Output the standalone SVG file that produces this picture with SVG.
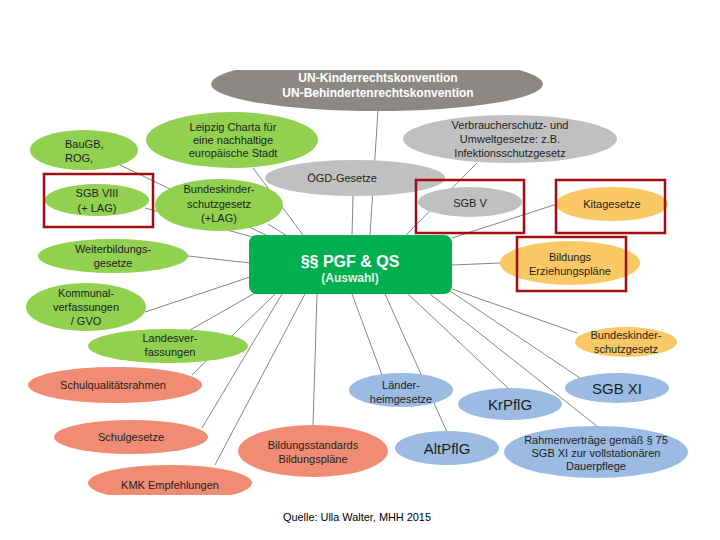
<svg xmlns="http://www.w3.org/2000/svg" width="720" height="540" viewBox="0 0 720 540">
<defs>
<style>
.t{font-family:"Liberation Sans",Arial,sans-serif;font-size:11px;fill:#1e1e1e;text-anchor:middle}
.b{font-size:15px}
.w{fill:#ffffff;font-weight:bold}
.g{fill:#92d050}
.gr{fill:#c0c0c0}
.o{fill:#fac864}
.s{fill:#f08c74}
.bl{fill:#9bbbe3}
.rb{fill:none;stroke:#a00f0f;stroke-width:2.5}
.c line{stroke:#505050;stroke-width:0.7}
</style>
<clipPath id="top"><rect x="0" y="70" width="720" height="425"/></clipPath>
</defs>
<rect width="720" height="540" fill="#ffffff"/>
<g class="c">
<line x1="378" y1="110" x2="370" y2="235"/>
<line x1="353" y1="196" x2="352" y2="235"/>
<line x1="253" y1="168" x2="303" y2="235"/>
<line x1="120" y1="165" x2="268" y2="236"/>
<line x1="145" y1="208" x2="253" y2="237"/>
<line x1="268" y1="224" x2="287" y2="236"/>
<line x1="477" y1="163" x2="405" y2="236"/>
<line x1="557" y1="204" x2="452" y2="238"/>
<line x1="452" y1="265" x2="500" y2="263"/>
<line x1="188" y1="256" x2="250" y2="263"/>
<line x1="145" y1="312" x2="250" y2="277"/>
<line x1="190" y1="330" x2="255" y2="293"/>
<line x1="192" y1="375" x2="275" y2="294"/>
<line x1="202" y1="428" x2="282" y2="294"/>
<line x1="215" y1="465" x2="305" y2="294"/>
<line x1="313" y1="425" x2="317" y2="294"/>
<line x1="352" y1="294" x2="382" y2="375"/>
<line x1="385" y1="294" x2="447" y2="432"/>
<line x1="408" y1="294" x2="508" y2="388"/>
<line x1="430" y1="294" x2="598" y2="427"/>
<line x1="450" y1="291" x2="580" y2="378"/>
<line x1="452" y1="289" x2="577" y2="333"/>
</g>
<g id="un" clip-path="url(#top)">
<ellipse cx="377" cy="84" rx="166" ry="27" fill="#8c8985"/>
<text class="t w" x="378" y="82" style="font-size:12px">UN-Kinderrechtskonvention</text>
<text class="t w" x="378" y="97" style="font-size:12px">UN-Behindertenrechtskonvention</text>
</g>
<g id="leipzig">
<ellipse class="g" cx="232" cy="140" rx="86" ry="28"/>
<text class="t" x="233" y="131">Leipzig Charta für</text>
<text class="t" x="233" y="144">eine nachhaltige</text>
<text class="t" x="233" y="157">europäische Stadt</text>
</g>
<g id="baugb">
<ellipse class="g" cx="84" cy="150" rx="54" ry="20"/>
<text class="t" x="65" y="148" style="text-anchor:start">BauGB,</text>
<text class="t" x="65" y="162" style="text-anchor:start">ROG,</text>
</g>
<g id="verbraucher">
<ellipse class="gr" cx="510" cy="139" rx="107" ry="24"/>
<text class="t" x="510" y="129">Verbraucherschutz- und</text>
<text class="t" x="510" y="143">Umweltgesetze: z.B.</text>
<text class="t" x="510" y="157">Infektionsschutzgesetz</text>
</g>
<g id="oegd">
<ellipse class="gr" cx="355" cy="178" rx="90" ry="18"/>
<text class="t" x="342" y="182">ÖGD-Gesetze</text>
</g>
<g id="sgb8">
<ellipse class="g" cx="97" cy="200" rx="52" ry="16"/>
<text class="t" x="97" y="197">SGB VIII</text>
<text class="t" x="97" y="212">(+ LAG)</text>
</g>
<g id="bkisg">
<ellipse class="g" cx="219" cy="205" rx="64" ry="26"/>
<text class="t" x="219" y="193">Bundeskinder-</text>
<text class="t" x="219" y="208">schutzgesetz</text>
<text class="t" x="219" y="222">(+LAG)</text>
</g>
<g id="sgb5">
<ellipse class="gr" cx="470" cy="202" rx="52" ry="15"/>
<text class="t" x="470" y="207">SGB V</text>
</g>
<g id="kita">
<ellipse class="o" cx="612" cy="204" rx="56" ry="17"/>
<text class="t" x="612" y="208">Kitagesetze</text>
</g>
<g id="center">
<rect x="249" y="235" width="203" height="59" rx="8" fill="#00b050"/>
<text class="t w" x="350" y="267" style="font-size:16px">§§ PGF &amp; QS</text>
<text class="t w" x="350" y="282" style="font-size:12px;fill:#e4f4e4">(Auswahl)</text>
</g>
<g id="bildungs">
<ellipse class="o" cx="570" cy="263" rx="70" ry="22"/>
<text class="t" x="570" y="261">Bildungs</text>
<text class="t" x="570" y="275">Erziehungspläne</text>
</g>
<g id="weiter">
<ellipse class="g" cx="113" cy="256" rx="75" ry="17"/>
<text class="t" x="113" y="253">Weiterbildungs-</text>
<text class="t" x="113" y="267">gesetze</text>
</g>
<g id="kommunal">
<ellipse class="g" cx="86" cy="307" rx="60" ry="24"/>
<text class="t" x="86" y="297">Kommunal-</text>
<text class="t" x="86" y="311">verfassungen</text>
<text class="t" x="86" y="325">/ GVO</text>
</g>
<g id="landes">
<ellipse class="g" cx="168" cy="346" rx="80" ry="17"/>
<text class="t" x="170" y="342">Landesver-</text>
<text class="t" x="170" y="356">fassungen</text>
</g>
<g id="bkisg2">
<ellipse class="o" cx="626" cy="342" rx="51" ry="15"/>
<text class="t" x="626" y="339">Bundeskinder-</text>
<text class="t" x="626" y="353">schutzgesetz</text>
</g>
<g id="schulq">
<ellipse class="s" cx="115" cy="385" rx="87" ry="18"/>
<text class="t" x="113" y="389">Schulqualitätsrahmen</text>
</g>
<g id="laender">
<ellipse class="bl" cx="401" cy="390" rx="52" ry="17"/>
<text class="t" x="401" y="389">Länder-</text>
<text class="t" x="401" y="403">heimgesetze</text>
</g>
<g id="sgb11">
<ellipse class="bl" cx="617" cy="388" rx="52" ry="15"/>
<text class="t b" x="617" y="394">SGB XI</text>
</g>
<g id="krpflg">
<ellipse class="bl" cx="510" cy="404" rx="52" ry="16"/>
<text class="t b" x="510" y="410">KrPflG</text>
</g>
<g id="schulg">
<ellipse class="s" cx="131" cy="437" rx="77" ry="17"/>
<text class="t" x="131" y="441">Schulgesetze</text>
</g>
<g id="standards">
<ellipse class="s" cx="313" cy="451" rx="75" ry="26"/>
<text class="t" x="313" y="449">Bildungsstandards</text>
<text class="t" x="313" y="463">Bildungspläne</text>
</g>
<g id="altpflg">
<ellipse class="bl" cx="447" cy="448" rx="52" ry="17"/>
<text class="t b" x="447" y="454">AltPflG</text>
</g>
<g id="rahmen">
<ellipse class="bl" cx="596" cy="452" rx="92" ry="26"/>
<text class="t" x="596" y="444">Rahmenverträge gemäß § 75</text>
<text class="t" x="596" y="457">SGB XI zur vollstationären</text>
<text class="t" x="596" y="470">Dauerpflege</text>
</g>
<g id="kmk" clip-path="url(#top)">
<ellipse class="s" cx="170" cy="483" rx="82" ry="18"/>
<text class="t" x="170" y="489">KMK Empfehlungen</text>
</g>
<g id="boxes">
<rect class="rb" x="44" y="174" width="109" height="53"/>
<rect class="rb" x="416" y="180" width="108" height="53"/>
<rect class="rb" x="556" y="180" width="109" height="53"/>
<rect class="rb" x="517" y="237" width="109" height="54"/>
</g>
<text x="357" y="521" style="font-family:'Liberation Sans',Arial,sans-serif;font-size:10.5px;fill:#000;text-anchor:middle" textLength="148" lengthAdjust="spacingAndGlyphs">Quelle: Ulla Walter, MHH 2015</text>
</svg>
